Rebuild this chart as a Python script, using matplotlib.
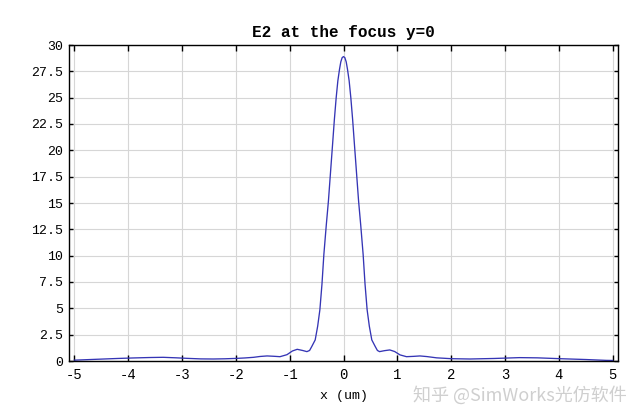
import matplotlib
matplotlib.use("Agg")
import matplotlib.pyplot as plt

# Data (x in um, |E|^2)
x_left = [-5.0, -4.75, -4.5, -4.2, -3.9, -3.6, -3.35, -3.1, -2.9, -2.65, -2.42, -2.2,
          -1.98, -1.83, -1.67, -1.55, -1.42, -1.3, -1.18, -1.05, -0.95, -0.86, -0.76,
          -0.68, -0.63, -0.59, -0.526, -0.48, -0.439, -0.40, -0.365, -0.32, -0.28,
          -0.24, -0.204, -0.17, -0.136, -0.105, -0.074, -0.05, -0.025]
y_left = [0.08, 0.13, 0.18, 0.24, 0.29, 0.33, 0.35, 0.30, 0.25, 0.20, 0.19, 0.21,
          0.25, 0.29, 0.35, 0.43, 0.48, 0.45, 0.41, 0.60, 0.95, 1.11, 1.00,
          0.89, 1.00, 1.37, 2.0, 3.3, 4.86, 7.3, 10.1, 12.9, 15.2,
          18.0, 20.5, 22.9, 25.0, 26.6, 27.7, 28.4, 28.8]
x_peak = [0.0]
y_peak = [28.9]
x_right = [0.025, 0.05, 0.074, 0.105, 0.136, 0.17, 0.204, 0.24, 0.28, 0.32, 0.365, 0.40,
           0.439, 0.48, 0.526, 0.59, 0.63, 0.67, 0.76, 0.86, 0.95, 1.05, 1.17, 1.3,
           1.42, 1.55, 1.73, 2.0, 2.35, 2.8, 3.27, 3.6, 4.02, 4.5, 4.88, 5.0]
y_right = [28.8, 28.4, 27.7, 26.6, 25.0, 22.9, 20.5, 18.0, 15.2, 12.9, 10.1, 7.3,
           4.86, 3.3, 2.0, 1.37, 1.0, 0.89, 0.98, 1.05, 0.9, 0.58, 0.41, 0.44,
           0.48, 0.42, 0.30, 0.22, 0.19, 0.24, 0.32, 0.30, 0.22, 0.14, 0.06, 0.05]

x_vals = x_left + x_peak + x_right
y_vals = y_left + y_peak + y_right

x_ticks = [-5, -4, -3, -2, -1, 0, 1, 2, 3, 4, 5]
y_ticks = [0, 2.5, 5, 7.5, 10, 12.5, 15, 17.5, 20, 22.5, 25, 27.5, 30]
y_tick_labels = ["0", "2.5", "5", "7.5", "10", "12.5", "15", "17.5", "20",
                 "22.5", "25", "27.5", "30"]

title_text = "E2 at the focus y=0"
xlabel_text = "x (um)"
watermark = "知乎 @SimWorks光仿软件"

mono = "Liberation Mono"

fig = plt.figure(figsize=(6.4, 4.18), dpi=100)
ax = fig.add_axes([69/640, 1 - 361/418, (618-69)/640, (361-45)/418])

ax.plot(x_vals, y_vals, color="#3535b5", linewidth=0.95)

ax.set_xlim(-5.1, 5.1)
ax.set_ylim(0, 30)
ax.set_xticks(x_ticks)
ax.set_xticklabels([str(t) for t in x_ticks], fontfamily=mono, fontsize=10)
ax.set_yticks(y_ticks)
ax.set_yticklabels(y_tick_labels, fontfamily=mono, fontsize=9.5)

ax.grid(True, color="#d6d6d6", linewidth=0.8)
ax.set_axisbelow(True)
ax.tick_params(axis="x", direction="in", length=4.5, width=1, top=True,
               bottom=True, pad=5, colors="black")
ax.tick_params(axis="y", direction="in", length=3.2, width=1, left=True,
               right=True, pad=4, colors="black")
for s in ax.spines.values():
    s.set_linewidth(1.0)
    s.set_color("black")

ax.set_title(title_text, fontfamily=mono, fontsize=11.5, fontweight="bold", pad=6)
ax.set_xlabel(xlabel_text, fontfamily=mono, fontsize=9.5, labelpad=6)

fig.text(627/640, 1 - 395/418, watermark, ha="right", va="center",
         fontsize=13, color="#cfcfcf",
         family=["Noto Sans CJK SC", "DejaVu Sans"])

fig.savefig("out.png", dpi=100)
